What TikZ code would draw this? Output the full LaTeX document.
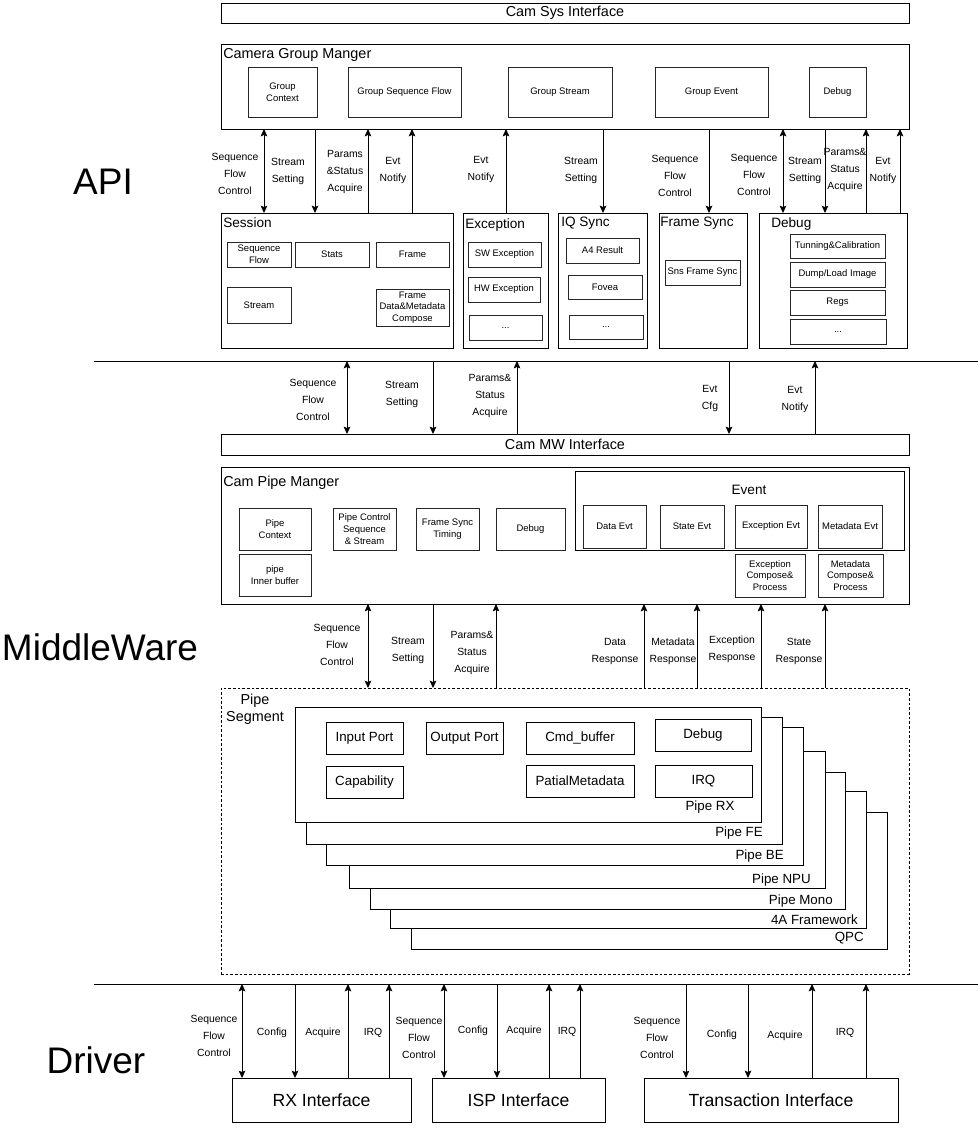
\documentclass[tikz,border=0pt]{standalone}
\usepackage{fontspec}
\setmainfont{Liberation Sans}
\usetikzlibrary{arrows.meta}
\newcommand\rsbig{\fontsize{27.75pt}{30pt}\selectfont}
\newcommand\rshead{\fontsize{10.8pt}{13pt}\selectfont}
\newcommand\rstitle{\fontsize{10.2pt}{12pt}\selectfont}
\newcommand\rssmall{\fontsize{7.1pt}{8.8pt}\selectfont}
\newcommand\rslab{\fontsize{7.8pt}{12.75pt}\selectfont}
\newcommand\rsmid{\fontsize{10pt}{12pt}\selectfont}
\newcommand\rsdrv{\fontsize{13.2pt}{15pt}\selectfont}
\begin{document}
\begin{tikzpicture}[x=0.75pt,y=-0.75pt,
  spanbox/.style n args={4}{at={({(#1+#3)/2},{(#2+#4)/2})},
     minimum width={(#3-#1)*0.75pt}, minimum height={(#4-#2)*0.75pt}},
  bx/.style={draw, line width=0.75pt, inner sep=0pt, outer sep=0pt, fill=white},
  ibx/.style={bx, draw=black!85, font=\rssmall, align=center},
  pbx/.style={bx, font=\rsmid, align=center},
  ttl/.style={inner sep=0pt, anchor=west, font=\rstitle},
  lab/.style={inner sep=0pt, font=\rslab, align=center},
  big/.style={inner sep=0pt, font=\rsbig},
  arr/.style={line width=0.75pt, -{Stealth[length=5.5pt,width=5pt,inset=1pt]}},
  darr/.style={line width=0.75pt, {Stealth[length=5.5pt,width=5pt,inset=1pt]}-{Stealth[length=5.5pt,width=5pt,inset=1pt]}},
  dashbox/.style={draw, line width=0.75pt, dash pattern=on 2pt off 1.5pt, inner sep=0pt, outer sep=0pt}
]
\useasboundingbox (0,0) rectangle (978,1136);
\fill[white] (0,0) rectangle (978,1136);

% ---------- big labels
\node[big] (lapi) at (103,182) {API};
\node[big] (lmw) at (100,647) {MiddleWare};
\node[big] (ldrv) at (96,1060) {Driver};

% ---------- top
\node[bx, spanbox={221}{3}{909}{23}, font=\rshead] (csi) {Cam Sys Interface};
\node[bx, spanbox={221}{44}{909}{129}] (cgm) {};
\node[ttl, font=\rshead] (cgmt) at (223,55) {Camera Group Manger};
\node[ibx, spanbox={248}{67}{317}{117}] (gctx) {Group\\Context};
\node[ibx, spanbox={348}{67}{461}{117}] (gsf) {Group Sequence Flow};
\node[ibx, spanbox={508}{67}{612}{117}] (gst) {Group Stream};
\node[ibx, spanbox={655}{67}{768}{117}] (gev) {Group Event};
\node[ibx, spanbox={809}{67}{866}{117}] (gdb) {Debug};

% ---------- API row
\node[bx, spanbox={221}{213}{453}{348}] (sess) {};
\node[ttl] (sesst) at (223,223) {Session};
\node[ibx, spanbox={227}{242}{291}{267}] (ssf) {Sequence\\Flow};
\node[ibx, spanbox={295}{242}{369}{267}] (sst) {Stats};
\node[ibx, spanbox={376}{242}{449}{267}] (sfr) {Frame};
\node[ibx, spanbox={227}{287}{291}{323}] (sstr) {Stream};
\node[ibx, spanbox={376}{289}{449}{326}] (sfd) {Frame\\Data\&Metadata\\Compose};

\node[bx, spanbox={463}{213}{548}{348}] (exc) {};
\node[ttl] (exct) at (465,225) {Exception};
\node[ibx, spanbox={468}{242}{541}{267}] (swe) {SW Exception};
\node[ibx, spanbox={468}{277}{540}{302}] (hwe) {HW Exception};
\node[ibx, spanbox={469}{315}{542}{340}] (exd) {...};

\node[bx, spanbox={558}{213}{647}{348}] (iqs) {};
\node[ttl] (iqst) at (561,223) {IQ Sync};
\node[ibx, spanbox={566}{238}{639}{263}] (a4r) {A4 Result};
\node[ibx, spanbox={568}{275}{642}{299}] (fov) {Fovea};
\node[ibx, spanbox={569}{315}{643}{339}] (iqd) {...};

\node[bx, spanbox={659}{213}{747}{348}] (fsy) {};
\node[ttl] (fsyt) at (660,223) {Frame Sync};
\node[ibx, spanbox={665}{260}{740}{285}] (sns) {Sns Frame Sync};

\node[bx, spanbox={759}{213}{907}{348}] (dbg) {};
\node[ttl] (dbgt) at (771,224) {Debug};
\node[ibx, spanbox={790}{234}{885}{258}] (tun) {Tunning\&Calibration};
\node[ibx, spanbox={790}{262}{885}{287}] (dmp) {Dump/Load Image};
\node[ibx, spanbox={790}{290}{885}{315}] (reg) {Regs};
\node[ibx, spanbox={790}{319}{886}{344}] (dbd) {...};

% ---------- top connectors
\draw[darr] (cgm.south -| 264,0) -- (sess.north -| 264,0);
\draw[arr] (cgm.south -| 315,0) -- (sess.north -| 315,0);
\draw[arr] (sess.north -| 368,0) -- (cgm.south -| 368,0);
\draw[arr] (sess.north -| 412,0) -- (cgm.south -| 412,0);
\draw[arr] (exc.north -| 506,0) -- (cgm.south -| 506,0);
\draw[arr] (cgm.south -| 603,0) -- (iqs.north -| 603,0);
\draw[arr] (cgm.south -| 709,0) -- (fsy.north -| 709,0);
\draw[darr] (cgm.south -| 783,0) -- (dbg.north -| 783,0);
\draw[arr] (cgm.south -| 825,0) -- (dbg.north -| 825,0);
\draw[arr] (dbg.north -| 866,0) -- (cgm.south -| 866,0);
\draw[arr] (dbg.north -| 900,0) -- (cgm.south -| 900,0);

\node[lab] (t1) at (235,174) {Sequence\\Flow\\Control};
\node[lab] (t2) at (288,171) {Stream\\Setting};
\node[lab] (t3) at (345,172) {Params\\\&Status\\Acquire};
\node[lab] (t4) at (393,170) {Evt\\Notify};
\node[lab] (t5) at (481,169) {Evt\\Notify};
\node[lab] (t6) at (581,170) {Stream\\Setting};
\node[lab] (t7) at (675,176) {Sequence\\Flow\\Control};
\node[lab] (t8) at (754,175) {Sequence\\Flow\\Control};
\node[lab] (t9) at (805,170) {Stream\\Setting};
\node[lab] (t10) at (845,170) {Params\&\\Status\\Acquire};
\node[lab] (t11) at (883,170) {Evt\\Notify};

% ---------- divider 1
\coordinate (d1l) at (94,361);
\coordinate (d1r) at (978,361);
\draw[line width=0.75pt] (d1l) -- (d1r);

% ---------- middleware
\node[bx, spanbox={221}{434}{909}{455}, font=\rshead] (mwi) {Cam MW Interface};

\draw[darr] (d1l -| 347,0) -- (mwi.north -| 347,0);
\draw[arr] (d1l -| 433,0) -- (mwi.north -| 433,0);
\draw[arr] (mwi.north -| 517,0) -- (d1l -| 517,0);
\draw[arr] (d1l -| 729,0) -- (mwi.north -| 729,0);
\draw[arr] (mwi.north -| 815,0) -- (d1l -| 815,0);

\node[lab] (m1) at (313,400) {Sequence\\Flow\\Control};
\node[lab] (m2) at (402,394) {Stream\\Setting};
\node[lab] (m3) at (490,396) {Params\&\\Status\\Acquire};
\node[lab] (m4) at (710,398) {Evt\\Cfg};
\node[lab] (m5) at (795,399) {Evt\\Notify};

\node[bx, spanbox={221}{467}{909}{604}] (cpm) {};
\node[ttl, font=\rshead] (cpmt) at (223,483) {Cam Pipe Manger};
\node[ibx, spanbox={239}{508}{311}{550}] (pctx) {Pipe\\Context};
\node[ibx, spanbox={239}{554}{311}{596}] (pib) {pipe\\Inner buffer};
\node[ibx, spanbox={333}{508}{396}{550}] (pcs) {Pipe Control\\Sequence\\\& Stream};
\node[ibx, spanbox={416}{508}{479}{550}] (fst) {Frame Sync\\Timing};
\node[ibx, spanbox={496}{508}{565}{550}] (pdb) {Debug};
\node[bx, spanbox={575}{471}{904}{550}] (evt) {};
\node[inner sep=0pt, font=\rstitle] (evtt) at (749,490) {Event};
\node[ibx, spanbox={583}{505}{646}{548}] (dev) {Data Evt};
\node[ibx, spanbox={660}{505}{724}{548}] (sev) {State Evt};
\node[ibx, spanbox={735}{505}{807}{548}] (eev) {Exception Evt};
\node[ibx, spanbox={818}{505}{882}{548}] (mev) {Metadata Evt};
\node[ibx, spanbox={735}{554}{805}{597}] (ecp) {Exception\\Compose\&\\Process};
\node[ibx, spanbox={818}{554}{883}{597}] (mcp) {Metadata\\Compose\&\\Process};

% ---------- pipe segment
\node[dashbox, spanbox={221}{688}{909}{974}] (pseg) {};
\node[inner sep=0pt, font=\rshead, align=center] (psegt) at (255,709) {Pipe\\Segment};

\node[pbx, spanbox={411}{812}{887}{949}] (pqpc) {};
\node[pbx, spanbox={390}{791}{866}{928}] (p4a) {};
\node[pbx, spanbox={370}{772}{845}{909}] (pmono) {};
\node[pbx, spanbox={349}{751}{825}{888}] (pnpu) {};
\node[pbx, spanbox={326}{727}{803}{865}] (pbe) {};
\node[pbx, spanbox={306}{717}{782}{844}] (pfe) {};
\node[pbx, spanbox={295}{707}{761}{822}] (prx) {};
\node[inner sep=0pt, anchor=east, font=\rsmid] (lqpc) at (864,938) {QPC};
\node[inner sep=0pt, anchor=east, font=\rsmid] (l4a) at (858,920) {4A Framework};
\node[inner sep=0pt, anchor=east, font=\rsmid] (lmono) at (833,901) {Pipe Mono};
\node[inner sep=0pt, anchor=east, font=\rsmid] (lnpu) at (811,880) {Pipe NPU};
\node[inner sep=0pt, anchor=east, font=\rsmid] (lbe) at (784,856) {Pipe BE};
\node[inner sep=0pt, anchor=east, font=\rsmid] (lfe) at (763,833) {Pipe FE};
\node[inner sep=0pt, font=\rsmid] (lrx) at (710,807) {Pipe RX};

\node[pbx, spanbox={326}{722}{403}{754}] (inp) {Input Port};
\node[pbx, spanbox={426}{722}{503}{754}] (outp) {Output Port};
\node[pbx, spanbox={526}{722}{634}{754}] (cmdb) {Cmd\_buffer};
\node[pbx, spanbox={655}{719}{751}{751}] (rdbg) {Debug};
\node[pbx, spanbox={326}{766}{403}{798}] (capb) {Capability};
\node[pbx, spanbox={526}{765}{634}{797}] (pmeta) {PatialMetadata};
\node[pbx, spanbox={655}{765}{752}{797}] (rirq) {IRQ};

% ---------- lower connectors
\draw[darr] (cpm.south -| 368,0) -- (pseg.north -| 368,0);
\draw[arr] (cpm.south -| 433,0) -- (pseg.north -| 433,0);
\draw[arr] (pseg.north -| 496,0) -- (cpm.south -| 496,0);
\draw[arr] (pseg.north -| 644,0) -- (cpm.south -| 644,0);
\draw[arr] (pseg.north -| 697,0) -- (cpm.south -| 697,0);
\draw[arr] (pseg.north -| 761,0) -- (cpm.south -| 761,0);
\draw[arr] (pseg.north -| 825,0) -- (cpm.south -| 825,0);

\node[lab] (w1) at (337,645) {Sequence\\Flow\\Control};
\node[lab] (w2) at (408,650) {Stream\\Setting};
\node[lab] (w3) at (472,653) {Params\&\\Status\\Acquire};
\node[lab] (w4) at (615,651) {Data\\Response};
\node[lab] (w5) at (673,651) {Metadata\\Response};
\node[lab] (w6) at (732,649) {Exception\\Response};
\node[lab] (w7) at (799,651) {State\\Response};

% ---------- divider 2
\coordinate (d2l) at (94,984);
\coordinate (d2r) at (978,984);
\draw[line width=0.75pt] (d2l) -- (d2r);

% ---------- driver
\node[bx, spanbox={232}{1078}{411}{1122}, font=\rsdrv] (rxi) {RX Interface};
\node[bx, spanbox={432}{1078}{605}{1122}, font=\rsdrv] (ispi) {ISP Interface};
\node[bx, spanbox={644}{1078}{898}{1122}, font=\rsdrv] (tri) {Transaction Interface};

\draw[darr] (d2l -| 242,0) -- (rxi.north -| 242,0);
\draw[arr] (d2l -| 295,0) -- (rxi.north -| 295,0);
\draw[arr] (rxi.north -| 348,0) -- (d2l -| 348,0);
\draw[arr] (rxi.north -| 389,0) -- (d2l -| 389,0);
\draw[darr] (d2l -| 444,0) -- (ispi.north -| 444,0);
\draw[arr] (d2l -| 497,0) -- (ispi.north -| 497,0);
\draw[arr] (ispi.north -| 549,0) -- (d2l -| 549,0);
\draw[arr] (ispi.north -| 580,0) -- (d2l -| 580,0);
\draw[arr] (d2l -| 686,0) -- (tri.north -| 686,0);
\draw[arr] (d2l -| 748,0) -- (tri.north -| 748,0);
\draw[arr] (tri.north -| 812,0) -- (d2l -| 812,0);
\draw[arr] (tri.north -| 866,0) -- (d2l -| 866,0);

\node[lab] (r1) at (214,1036) {Sequence\\Flow\\Control};
\node[lab] (r2) at (272,1033) {Config};
\node[lab] (r3) at (323,1033) {Acquire};
\node[lab] (r4) at (373,1033) {IRQ};
\node[lab] (i1) at (419,1038) {Sequence\\Flow\\Control};
\node[lab] (i2) at (473,1031) {Config};
\node[lab] (i3) at (524,1031) {Acquire};
\node[lab] (i4) at (567,1032) {IRQ};
\node[lab] (x1) at (657,1038) {Sequence\\Flow\\Control};
\node[lab] (x2) at (722,1035) {Config};
\node[lab] (x3) at (785,1036) {Acquire};
\node[lab] (x4) at (845,1033) {IRQ};
\end{tikzpicture}
\end{document}
